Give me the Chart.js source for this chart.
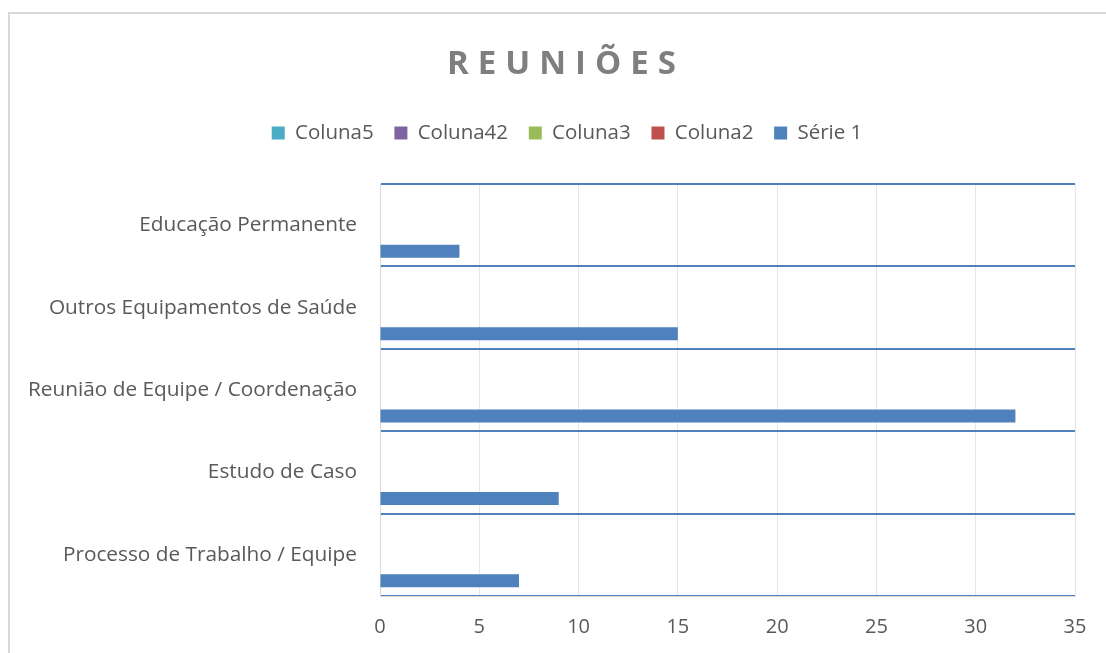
<!DOCTYPE html>
<html>
<head>
<meta charset="utf-8">
<script src="https://cdn.jsdelivr.net/npm/chart.js@4.4.1/dist/chart.umd.min.js"></script>
<style>
  html, body { margin: 0; padding: 0; background: #fff; }
  #wrap { position: relative; width: 1106px; height: 653px; overflow: hidden; }
  #frame { position: absolute; left: 8px; top: 12px; width: 1200px; height: 800px; border-left: 2px solid #D9D9D9; border-top: 2px solid #D9D9D9; box-sizing: border-box; }
  canvas { position: absolute; left: 0; top: 0; }
</style>
</head>
<body>
<div id="wrap">
  <div id="frame"></div>
  <canvas id="c" width="1106" height="653"></canvas>
</div>
<script>
const titleText = 'REUNIÕES';
const categories = [
  'Educação Permanente',
  'Outros Equipamentos de Saúde',
  'Reunião de Equipe / Coordenação',
  'Estudo de Caso',
  'Processo de Trabalho / Equipe'
];
const seriesNames = ['Coluna5', 'Coluna42', 'Coluna3', 'Coluna2', 'Série 1'];
const seriesColors = ['#4BACC6', '#8064A2', '#9BBB59', '#C0504D', '#4F81BD'];
const coluna5 = [0, 0, 0, 0, 0];
const coluna42 = [0, 0, 0, 0, 0];
const coluna3 = [0, 0, 0, 0, 0];
const coluna2 = [0, 0, 0, 0, 0];
const serie1 = [4, 15, 32, 9, 7];
const xTicks = [0, 5, 10, 15, 20, 25, 30, 35];

const seriesValues = [coluna5, coluna42, coluna3, coluna2, serie1];
const FONT = '"Open Sans", sans-serif';

const titlePlugin = {
  id: 'spacedTitle',
  afterDraw(chart) {
    const ctx = chart.ctx;
    ctx.save();
    ctx.font = 'bold 33px "Open Sans", sans-serif';
    ctx.fillStyle = '#7F7F7F';
    ctx.textBaseline = 'alphabetic';
    ctx.textAlign = 'left';
    const spacing = 9;
    const chars = Array.from(titleText);
    const widths = chars.map(c => ctx.measureText(c).width);
    const total = widths.reduce((a, b) => a + b, 0) + spacing * (chars.length - 1);
    let x = 561.5 - total / 2;
    chars.forEach((c, i) => {
      ctx.fillText(c, x, 74);
      x += widths[i] + spacing;
    });
    ctx.restore();
  }
};

const chart = new Chart(document.getElementById('c'), {
  type: 'bar',
  data: {
    labels: categories,
    datasets: seriesNames.map((n, i) => ({
      label: n,
      data: seriesValues[i],
      backgroundColor: seriesColors[i],
      borderWidth: 0,
      categoryPercentage: 0.79,
      barPercentage: 1.0
    }))
  },
  options: {
    indexAxis: 'y',
    responsive: false,
    animation: false,
    devicePixelRatio: 1,
    layout: { padding: { left: 0, right: 31, top: 102, bottom: 0 } },
    plugins: {
      tooltip: { enabled: false },
      title: { display: false },
      legend: {
        display: true,
        position: 'top',
        labels: {
          color: '#595959',
          font: { family: FONT, size: 20.5 },
          boxWidth: 13,
          boxHeight: 13,
          padding: 20.75
        }
      }
    },
    scales: {
      x: {
        min: 0,
        max: 35,
        afterBuildTicks: (s) => { s.ticks = xTicks.map(v => ({ value: v })); },
        afterFit: (s) => { s.height = 57; },
        grid: { color: '#E6E6E6', lineWidth: 1, drawTicks: false },
        border: { display: true, color: '#D9D9D9', width: 1 },
        ticks: { color: '#595959', font: { family: FONT, size: 20 }, padding: 19 }
      },
      y: {
        afterFit: (s) => { s.width = 380; },
        grid: {
          offset: true,
          drawTicks: false,
          lineWidth: 2,
          color: (ctx) => ctx.index >= categories.length ? 'rgba(0,0,0,0)' : '#4F81BD'
        },
        border: { display: true, color: '#D9D9D9', width: 1 },
        ticks: { color: '#595959', font: { family: FONT, size: 20.8 }, padding: 23 }
      }
    }
  },
  plugins: [titlePlugin]
});

// legend: extra space below the row, and centred on the chart frame
const lg = chart.legend;
const origFit = lg.fit.bind(lg);
lg.fit = function () {
  origFit();
  this.height = 184 - 102;
};
const origLgDraw = lg.draw.bind(lg);
lg.draw = function () {
  const ctx = this.ctx;
  ctx.save();
  ctx.translate(29.5, 0);
  origLgDraw();
  ctx.restore();
};
chart.update();
</script>
</body>
</html>
